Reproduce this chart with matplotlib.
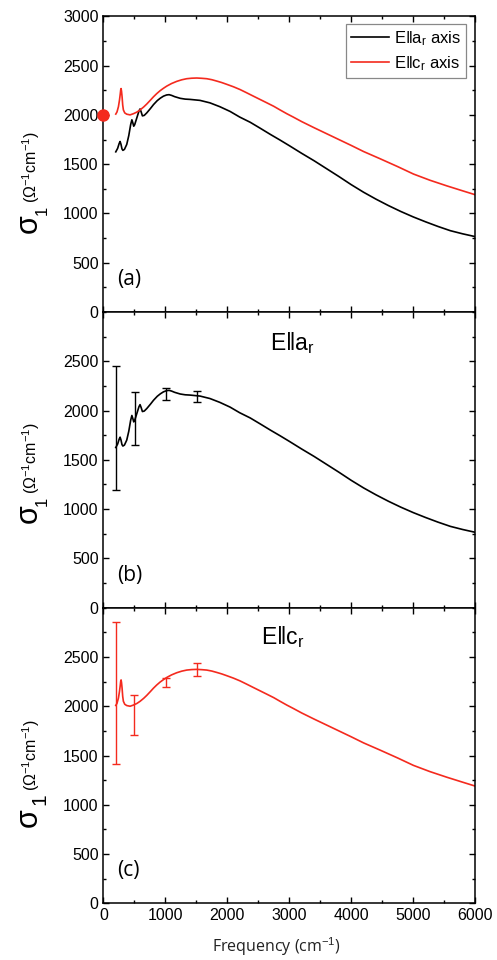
"""Optical conductivity sigma_1 for E||a_r and E||c_r, three stacked panels."""

import matplotlib

matplotlib.use("Agg")
import matplotlib.pyplot as plt
from matplotlib.ticker import MultipleLocator

plt.rcParams["font.family"] = ["Liberation Sans", "DejaVu Sans"]
plt.rcParams["mathtext.fontset"] = "custom"
plt.rcParams["mathtext.rm"] = "Liberation Sans"
plt.rcParams["mathtext.it"] = "Liberation Sans:italic"

# E || a_r (black)
freq_a = [200, 230, 255, 270, 285, 300, 315, 340, 377, 410, 440, 460, 475, 490,
          505, 520, 550, 575, 592, 610, 630, 660, 700, 760, 810, 870, 920, 970,
          1020, 1060, 1100, 1150, 1240, 1320, 1400, 1560, 1720, 1880, 2045,
          2200, 2370, 2530, 2700, 2850, 3000, 3200, 3400, 3600, 3800, 4000,
          4200, 4400, 4600, 4800, 5000, 5200, 5400, 5600, 5800, 6000]
sigma_a = [1625, 1660, 1710, 1730, 1700, 1655, 1640, 1650, 1700, 1790, 1900,
           1950, 1920, 1885, 1900, 1930, 1990, 2040, 2060, 2030, 1990, 1995,
           2020, 2065, 2105, 2145, 2170, 2190, 2202, 2205, 2198, 2185, 2168,
           2160, 2157, 2147, 2122, 2083, 2035, 1978, 1925, 1865, 1800, 1745,
           1688, 1610, 1535, 1455, 1375, 1292, 1215, 1145, 1080, 1020, 965,
           915, 868, 825, 793, 765]

# E || c_r (red)
freq_c = [200, 220, 243, 260, 272, 280, 286, 293, 302, 312, 323, 345, 377, 431,
          485, 540, 592, 650, 700, 760, 808, 860, 915, 970, 1023, 1100, 1184,
          1265, 1345, 1425, 1507, 1590, 1668, 1750, 1830, 1910, 1991, 2100,
          2206, 2310, 2421, 2530, 2636, 2750, 2852, 2960, 3067, 3200, 3400,
          3600, 3800, 4000, 4200, 4466, 4750, 5004, 5270, 5542, 5780, 6000]
sigma_c = [2008, 2030, 2083, 2150, 2210, 2255, 2267, 2240, 2183, 2100, 2050,
           2020, 2007, 2000, 2012, 2028, 2050, 2080, 2110, 2150, 2183, 2215,
           2245, 2270, 2292, 2318, 2340, 2356, 2367, 2372, 2374, 2371, 2367,
           2357, 2343, 2328, 2310, 2285, 2257, 2225, 2190, 2156, 2123, 2087,
           2050, 2012, 1977, 1932, 1870, 1810, 1750, 1690, 1628, 1555, 1475,
           1400, 1337, 1280, 1233, 1190]

# DC value marker
dc_freq = [0]
dc_sigma = [2000]

# error bars
err_freq_a = [200, 510, 1005, 1505]
err_mid_a = [1820, 1920, 2170, 2140]
err_half_a = [630, 271, 63, 58]

err_freq_c = [200, 500, 1005, 1505]
err_mid_c = [2134, 1910, 2240, 2371]
err_half_c = [718, 200, 46, 68]

RED = "#f42a1e"
UNITS = r"($\mathregular{\Omega^{-1}}$cm$^{-1}$)"

fig, axes = plt.subplots(3, 1, figsize=(4.97, 9.6), dpi=100, sharex=True)
fig.subplots_adjust(left=0.208, right=0.956, top=0.983, bottom=0.059, hspace=0)

ax_a, ax_b, ax_c = axes

ax_a.plot(freq_a, sigma_a, color="black", lw=1.2,
          label=r"E$\Vert$a$_\mathregular{r}$ axis")
ax_a.plot(freq_c, sigma_c, color=RED, lw=1.2,
          label=r"E$\Vert$c$_\mathregular{r}$ axis")
ax_a.plot(dc_freq, dc_sigma, "o", color=RED, ms=8, clip_on=False, zorder=5)
leg = ax_a.legend(loc="upper right", fontsize=12, fancybox=False, framealpha=1,
                  edgecolor="#888888", handlelength=2.3, handletextpad=0.3,
                  borderpad=0.3, labelspacing=0.35, borderaxespad=0,
                  bbox_to_anchor=(0.976, 0.973))
leg.get_frame().set_linewidth(0.9)

ax_b.plot(freq_a, sigma_a, color="black", lw=1.2)
ax_b.errorbar(err_freq_a, err_mid_a, yerr=err_half_a, fmt="none", ecolor="black",
              elinewidth=1.0, capsize=3, capthick=1.0)
ax_b.text(3050, 2690, r"E$\Vert$a$_\mathregular{r}$", fontsize=16.5,
          ha="center", va="center")

ax_c.plot(freq_c, sigma_c, color=RED, lw=1.2)
ax_c.errorbar(err_freq_c, err_mid_c, yerr=err_half_c, fmt="none", ecolor=RED,
              elinewidth=1.0, capsize=3, capthick=1.0)
ax_c.text(2900, 2700, r"E$\Vert$c$_\mathregular{r}$", fontsize=16.5,
          ha="center", va="center")

# y label pieces per panel, axes fraction:
# sigma bottom, subscript centre, subscript x, subscript size, units bottom
sigma_y = [0.267, 0.287, 0.258]
sub_y = [0.345, 0.361, 0.353]
sub_x = [-0.165, -0.165, -0.172]
sub_size = [12, 12, 15]
units_y = [0.370, 0.384, 0.380]
for i, (ax, tag) in enumerate(zip(axes, ["(a)", "(b)", "(c)"])):
    ax.set_xlim(0, 6000)
    ax.set_ylim(0, 3000)
    ax.xaxis.set_major_locator(MultipleLocator(1000))
    ax.xaxis.set_minor_locator(MultipleLocator(500))
    ax.yaxis.set_major_locator(MultipleLocator(500))
    ax.yaxis.set_minor_locator(MultipleLocator(250))
    ax.tick_params(which="both", direction="in", top=True, right=True,
                   labelsize=11.5, width=1.0)
    ax.tick_params(which="major", length=4.5)
    ax.tick_params(which="minor", length=2.5)
    for spine in ax.spines.values():
        spine.set_linewidth(1.1)
    ax.text(0.038, 0.11, tag, transform=ax.transAxes, fontsize=15,
            family=["Open Sans", "DejaVu Sans"], ha="left", va="center")
    ax.text(-0.200, sigma_y[i], "\u03c3", transform=ax.transAxes, fontsize=22,
            rotation=90, ha="center", va="bottom")
    ax.text(sub_x[i], sub_y[i], "1", transform=ax.transAxes,
            fontsize=sub_size[i], rotation=90, ha="center", va="center")
    ax.text(-0.195, units_y[i], UNITS, transform=ax.transAxes, fontsize=11.5,
            rotation=90, ha="center", va="bottom")

for ax in (ax_b, ax_c):
    ax.set_yticks([0, 500, 1000, 1500, 2000, 2500])

fig.text(276 / 497, 1 - 947 / 960, "Frequency (cm$^{-1}$)", fontsize=11.5,
         color="#222222", family=["Open Sans", "DejaVu Sans"],
         ha="center", va="center")

fig.savefig("out.png", dpi=100)
